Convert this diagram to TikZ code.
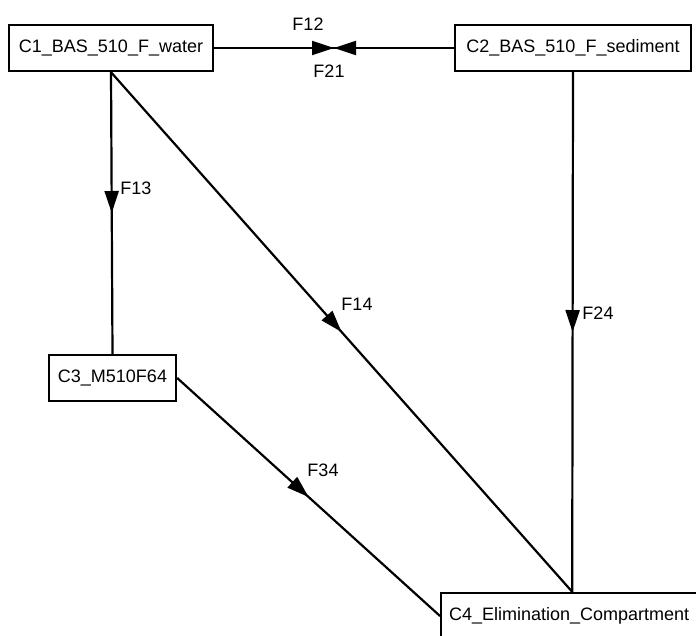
\documentclass[tikz,border=0pt]{standalone}
\usepackage{fontspec}
\setmainfont{Liberation Sans}
\usetikzlibrary{decorations.markings,arrows.meta}
\tikzset{
  comp/.style={draw, line width=2.4pt, minimum height=46pt, inner sep=0pt, font=\fontsize{18}{21}\selectfont},
  flow/.style={line width=2.2pt, postaction={decorate}, decoration={markings, mark=at position 0.5 with {\arrow{Triangle[length=22pt,width=14pt]}}}},
  lbl/.style={font=\fontsize{18}{21}\selectfont, inner sep=0pt}
}
\begin{document}
\begin{tikzpicture}[x=1pt,y=-1pt]
\useasboundingbox (0,0) rectangle (696,635);
\node[comp, minimum width=204pt] (c1) at (111,48) {C1\_BAS\_510\_F\_water};
\node[comp, minimum width=236pt] (c2) at (573,48) {C2\_BAS\_510\_F\_sediment};
\node[comp, minimum width=127pt] (c3) at (112.5,378) {C3\_M510F64};
\node[comp, minimum width=262pt, anchor=west] (c4) at (440,616) {\hspace*{-6pt}C4\_Elimination\_Compartment};
\draw[flow] (c1.east) -- (c2.west);
\draw[flow] (c2.west) -- (c1.east);
\draw[flow] (c1.south) -- (c3.north);
\draw[flow] (c1.south) -- (c4.north);
\draw[flow] (c2.south) -- (c4.north);
\draw[flow] (c3.east) -- (c4.west);
\node[lbl] (l12) at (308,24) {F12};
\node[lbl] (l21) at (329,71) {F21};
\node[lbl] (l13) at (136,188) {F13};
\node[lbl] (l14) at (357,304) {F14};
\node[lbl] (l24) at (598,313) {F24};
\node[lbl] (l34) at (323,470) {F34};
\end{tikzpicture}
\end{document}
